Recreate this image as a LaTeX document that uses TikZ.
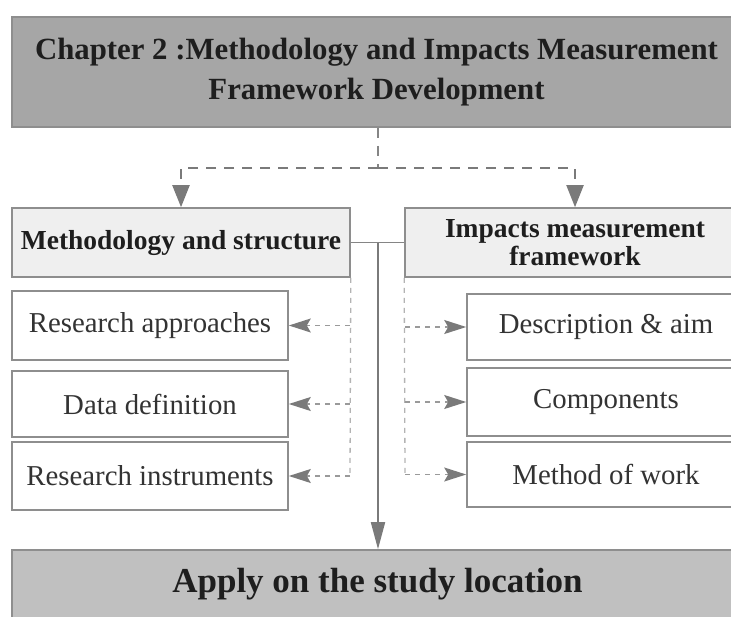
\documentclass[tikz,border=0pt]{standalone}
\usepackage{fontspec}
\setmainfont{Liberation Serif}
\usetikzlibrary{arrows.meta}
\definecolor{topfill}{HTML}{A6A6A6}
\definecolor{botfill}{HTML}{C0C0C0}
\definecolor{headfill}{HTML}{EFEFEF}
\definecolor{edgecol}{HTML}{8E8E8E}
\definecolor{linecol}{HTML}{858585}
\definecolor{lightdash}{HTML}{B3B3B3}
\definecolor{branchdash}{HTML}{9A9A9A}
\definecolor{tipcol}{HTML}{7A7A7A}
\definecolor{txtdark}{HTML}{1E1E1E}
\definecolor{txtreg}{HTML}{333333}
\tikzset{
  base/.style={draw=edgecol, line width=1.6pt, inner sep=0pt, align=center, anchor=center},
  topbox/.style={base, fill=topfill, text=txtdark, font=\bfseries\fontsize{30.8}{40}\selectfont},
  botbox/.style={base, fill=botfill, text=txtdark, font=\bfseries\fontsize{35}{40}\selectfont},
  headbox/.style={base, fill=headfill, text=txtdark, font=\bfseries\fontsize{27.5}{27.5}\selectfont},
  subbox/.style={base, fill=white, text=txtreg, font=\fontsize{28.8}{32}\selectfont},
  topdash/.style={draw=linecol, line width=2pt, dash pattern=on 10pt off 8pt},
  toptip/.style={-{Triangle[length=22pt,width=17pt]}, tipcol},
  solidline/.style={draw=linecol, line width=1.8pt},
  smalldash/.style={draw=lightdash, line width=1.3pt, dash pattern=on 5pt off 5pt},
  branchline/.style={draw=branchdash, line width=1.5pt, dash pattern=on 5pt off 5pt},
  smalltip/.style={-{Stealth[length=22pt,width=14pt,inset=4pt,color=tipcol,fill=tipcol]}},
}
\begin{document}
\begin{tikzpicture}[x=1pt,y=-1pt]
\useasboundingbox (0,0) rectangle (731,616);
% boxes
\node[topbox, minimum width=729pt, minimum height=110pt] (top) at (376.5,72) {Chapter 2 :Methodology and Impacts Measurement\\Framework Development};
\node[headbox, minimum width=338pt, minimum height=69pt] (meth) at (181,242.5) {Methodology and structure};
\node[headbox, minimum width=340pt, minimum height=69pt] (imp) at (575,242.5) {Impacts measurement\\framework};
\node[subbox, minimum width=276pt, minimum height=69pt] (ra) at (150,325.5) {Research approaches};
\node[subbox, minimum width=276pt, minimum height=66pt] (dd) at (150,404) {Data definition};
\node[subbox, minimum width=276pt, minimum height=68pt] (ri) at (150,476) {Research instruments};
\node[subbox, minimum width=278pt, minimum height=66pt] (da) at (606,327) {Description \& aim};
\node[subbox, minimum width=278pt, minimum height=68pt] (co) at (606,402) {Components};
\node[subbox, minimum width=278pt, minimum height=65pt] (mw) at (606,474.5) {Method of work};
\node[botbox, minimum width=731pt, minimum height=68pt] (apply) at (377.5,584) {Apply on the study location};
% top dashed split
\coordinate (j) at (378,168);
\draw[topdash] (top.south -| j) -- (j);
\draw[topdash, toptip] (j) -| (meth.north);
\draw[topdash, toptip] (j) -| (imp.north);
% solid link and down arrow
\coordinate (m) at (378,242.5);
\draw[solidline] (meth.east) -- (imp.west);
\draw[solidline, -{Triangle[length=27pt,width=14pt]}, tipcol] (m) -- (apply.north -| m);
% left dashed branches
\coordinate (lb) at (350,476);
\draw[smalldash] (meth.south east) -- (lb);
\draw[branchline, smalltip] (ra.east -| lb) -- (ra.east);
\draw[branchline, smalltip] (dd.east -| lb) -- (dd.east);
\draw[branchline, smalltip] (lb) -- (ri.east);
% right dashed branches
\coordinate (rb) at (405,474.5);
\draw[smalldash] (imp.south west) -- (rb);
\draw[branchline, smalltip] (da.west -| rb) -- (da.west);
\draw[branchline, smalltip] (co.west -| rb) -- (co.west);
\draw[branchline, smalltip] (rb) -- (mw.west);
\end{tikzpicture}
\end{document}
